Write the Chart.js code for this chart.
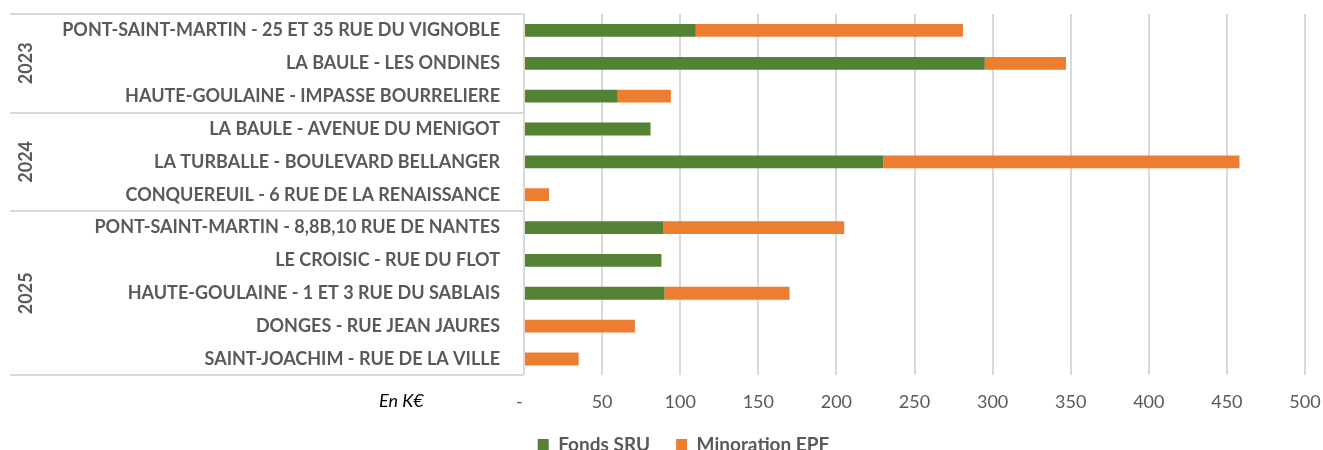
<!DOCTYPE html>
<html>
<head>
<meta charset="utf-8">
<script src="https://cdn.jsdelivr.net/npm/chart.js@4.4.1/dist/chart.umd.min.js"></script>
<style>
  html, body { margin: 0; padding: 0; background: #fff; overflow: hidden; }
  #wrap { width: 1323px; height: 450px; overflow: hidden; }
</style>
</head>
<body>
<div id="wrap"><canvas id="sruChart" width="1323" height="464"></canvas></div>
<script>
const categories = [
    'PONT-SAINT-MARTIN - 25 ET 35 RUE DU VIGNOBLE',
    'LA BAULE - LES ONDINES',
    'HAUTE-GOULAINE - IMPASSE BOURRELIERE',
    'LA BAULE - AVENUE DU MENIGOT',
    'LA TURBALLE - BOULEVARD BELLANGER',
    'CONQUEREUIL - 6 RUE DE LA RENAISSANCE',
    'PONT-SAINT-MARTIN - 8,8B,10 RUE DE NANTES',
    'LE CROISIC - RUE DU FLOT',
    'HAUTE-GOULAINE - 1 ET 3 RUE DU SABLAIS',
    'DONGES - RUE JEAN JAURES',
    'SAINT-JOACHIM - RUE DE LA VILLE'
];
const years = ['2023', '2024', '2025'];
const yearSizes = [3, 3, 5];
const fondsSRU = [110, 295, 60, 81, 230, null, 89, 88, 90, null, null];
const minorationEPF = [171, 52, 34, null, 228, 16, 116, null, 80, 71, 35];
const xTicks = [0, 50, 100, 150, 200, 250, 300, 350, 400, 450, 500];

const grey = '#595959';
const lineGrey = '#d9d9d9';

// year brackets on the left + "En K€" note
const groupPlugin = {
    id: 'groupPlugin',
    afterDraw(chart) {
        const { ctx, chartArea, scales: { y } } = chart;
        const half = (y.getPixelForValue(1) - y.getPixelForValue(0)) / 2;
        ctx.save();
        ctx.strokeStyle = lineGrey;
        ctx.lineWidth = 2;
        let start = 0;
        const bounds = [y.getPixelForValue(0) - half];
        yearSizes.forEach(n => {
            bounds.push(y.getPixelForValue(start + n - 1) + half);
            start += n;
        });
        bounds.forEach(b => {
            const yy = Math.round(b);
            ctx.beginPath();
            ctx.moveTo(10, yy);
            ctx.lineTo(chartArea.left, yy);
            ctx.stroke();
        });
        ctx.fillStyle = grey;
        ctx.font = 'bold 18px Lato';
        ctx.textAlign = 'center';
        ctx.textBaseline = 'middle';
        years.forEach((yr, i) => {
            const mid = (bounds[i] + bounds[i + 1]) / 2;
            ctx.save();
            ctx.translate(26, mid);
            ctx.rotate(-Math.PI / 2);
            ctx.fillText(yr, 0, 0);
            ctx.restore();
        });
        ctx.fillStyle = '#000';
        ctx.font = 'italic 18px Lato';
        ctx.textAlign = 'left';
        ctx.fillText('En K€', 379, 401);
        ctx.restore();
    }
};

new Chart(document.getElementById('sruChart'), {
    type: 'bar',
    data: {
        labels: categories,
        datasets: [{
            label: 'Fonds SRU',
            data: fondsSRU,
            backgroundColor: '#548235',
            borderWidth: 0,
            barPercentage: 0.39,
            categoryPercentage: 1
        }, {
            label: 'Minoration EPF',
            data: minorationEPF,
            backgroundColor: '#ED7D31',
            borderWidth: 0,
            barPercentage: 0.39,
            categoryPercentage: 1
        }]
    },
    options: {
        indexAxis: 'y',
        responsive: false,
        animation: false,
        layout: {
            padding: { top: 14, left: 62, right: 18, bottom: 0 }
        },
        scales: {
            x: {
                stacked: true,
                min: 0,
                max: 500,
                afterBuildTicks: (scale) => {
                    scale.ticks = xTicks.map(v => ({ value: v }));
                },
                afterFit: (scale) => {
                    scale.paddingLeft = 0;
                    scale.paddingRight = 0;
                    scale.height = scale.height - 20;
                },
                grid: {
                    color: lineGrey,
                    lineWidth: 2,
                    drawTicks: false
                },
                border: { display: false },
                ticks: {
                    color: grey,
                    font: { family: 'Lato', size: 18 },
                    padding: 16,
                    callback: (v) => v === 0 ? '-  ' : v
                }
            },
            y: {
                stacked: true,
                grid: { display: false, drawTicks: false },
                border: { display: false },
                afterFit: (scale) => {
                    scale.width = 462;
                    scale.paddingTop = 0;
                    scale.paddingBottom = 0;
                },
                ticks: {
                    color: grey,
                    font: { family: 'Lato', size: 18, weight: 'bold' },
                    padding: 24,
                    autoSkip: false
                }
            }
        },
        plugins: {
            legend: {
                position: 'bottom',
                labels: {
                    color: grey,
                    font: { family: 'Lato', size: 19, weight: 'bold' },
                    boxWidth: 11,
                    boxHeight: 11,
                    padding: 26
                }
            },
            tooltip: { enabled: false }
        }
    },
    plugins: [groupPlugin]
});
</script>
</body>
</html>
